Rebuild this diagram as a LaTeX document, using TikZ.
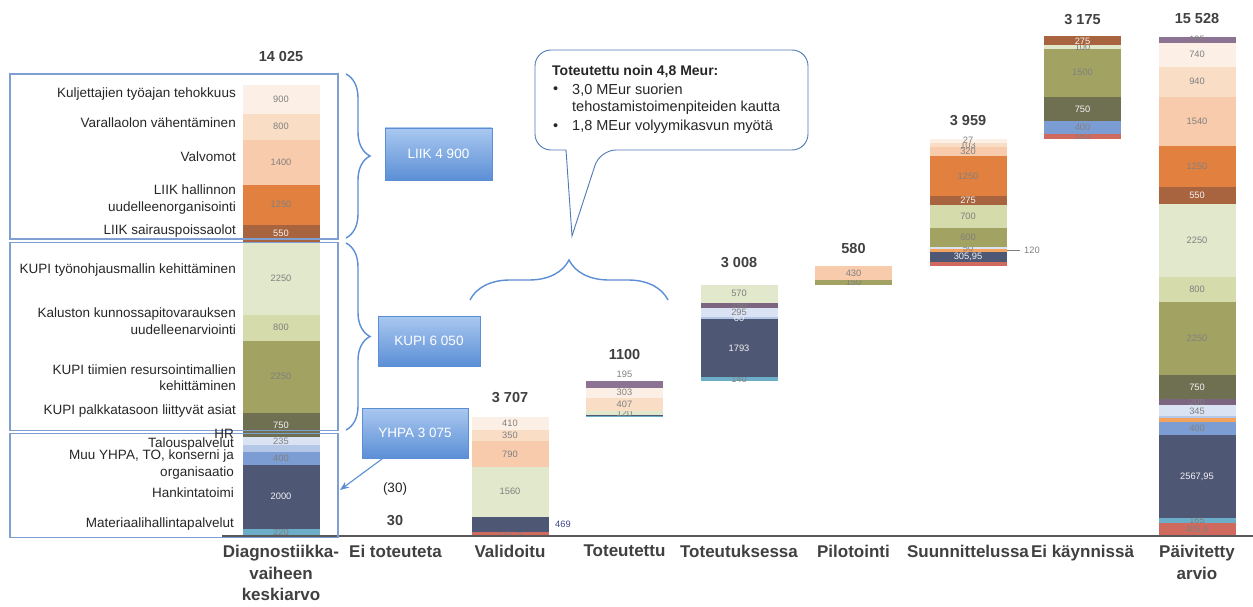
\documentclass[tikz,border=0pt]{standalone}
\usepackage{fontspec}
\setmainfont{Liberation Sans}
\usetikzlibrary{decorations.pathreplacing,arrows.meta}
\definecolor{pk1}{HTML}{FCF0E6}
\definecolor{pk2}{HTML}{FADDC5}
\definecolor{pk3}{HTML}{F8CBAD}
\definecolor{org}{HTML}{E2803F}
\definecolor{brn}{HTML}{A8643E}
\definecolor{gn1}{HTML}{E2E8CB}
\definecolor{gn2}{HTML}{D5DBAA}
\definecolor{olv}{HTML}{A2A262}
\definecolor{dol}{HTML}{6F7052}
\definecolor{lav}{HTML}{DAE3F3}
\definecolor{lbl}{HTML}{B4C7E7}
\definecolor{blu}{HTML}{7C9DD3}
\definecolor{dsl}{HTML}{4E5774}
\definecolor{tea}{HTML}{6CAEC8}
\definecolor{pur}{HTML}{8C7393}
\definecolor{pud}{HTML}{7B6580}
\definecolor{red}{HTML}{D0695E}
\definecolor{orn}{HTML}{F5A35C}
\definecolor{gry}{HTML}{808080}
\definecolor{wht}{HTML}{F4F4F4}
\definecolor{grpblue}{HTML}{7F9ED2}
\definecolor{tagedge}{HTML}{5B8ED6}
\definecolor{tagtop}{HTML}{A9C8F0}
\definecolor{tagbot}{HTML}{5C8FD6}
\definecolor{txt}{HTML}{262626}
\definecolor{dtxt}{HTML}{404040}
\newcount\segn
\newcommand\stackbar[3]{%
  \xdef\cum{#2}%
  \foreach \v/\c/\l/\t in {#3}{%
    \pgfmathsetmacro\ya{536-\cum*0.03216}%
    \pgfmathsetmacro\yb{536-(\cum+\v)*0.03216}%
    \fill[\c] (#1-38.5,\ya) rectangle (#1+38.5,\yb);
    \global\advance\segn by 1
    \node[seglbl,text=\t] (seg\the\segn) at (#1,{(\ya+\yb)/2}) {\l};
    \pgfmathsetmacro\nc{\cum+\v}%
    \xdef\cum{\nc}%
  }%
}
\begin{document}
\begin{tikzpicture}[x=1pt,y=-1pt,
  seglbl/.style={font=\fontsize{9.3}{10}\selectfont, inner sep=0pt},
  leftlbl/.style={anchor=east, align=right, font=\fontsize{13.5}{16.5}\selectfont, text=txt, inner sep=0pt},
  catlbl/.style={anchor=north, align=center, font=\fontsize{17}{21.5}\selectfont\bfseries, text=dtxt, inner sep=0pt},
  totlbl/.style={font=\fontsize{14.5}{16}\selectfont\bfseries, text=dtxt, inner sep=0pt},
  grpbox/.style={draw=grpblue, line width=1.1pt, inner sep=0pt},
  tagbox/.style={draw=tagedge, top color=tagtop, bottom color=tagbot, text=white, font=\fontsize{13.5}{15}\selectfont, inner sep=0pt},
  bluebrace/.style={draw=tagedge, line width=1.4pt, decorate},
  calltxt/.style={anchor=west, font=\fontsize{14.5}{16}\selectfont, text=txt, inner sep=0pt},
]
\useasboundingbox (0,0) rectangle (1253,607);

% ---- bars ----
\stackbar{281}{0}{220/tea/220/gry, 2000/dsl/2000/wht, 400/blu/400/gry, 220/lbl//gry, 235/lav/235/gry, 750/dol/750/wht, 2250/olv/2250/gry, 800/gn2/800/gry, 2250/gn1/2250/gry, 550/brn/550/wht, 1250/org/1250/gry, 1400/pk3/1400/gry, 800/pk2/800/gry, 900/pk1/900/gry}
\stackbar{510}{0}{127.5/red/{127,5}/gry, 469/dsl//wht, 1560/gn1/1560/gry, 790/pk3/790/gry, 350/pk2/350/gry, 410/pk1/410/gry}
\stackbar{624.5}{3707}{30/tea//gry, 30/dsl//gry, 120/gn1/120/gry, 407/pk2/407/gry, 318/pk1/303/gry, 195/pur//gry}
\stackbar{739}{4807}{140/tea/140/gry, 1793/dsl/1793/wht, 60/lbl/60/wht, 295/lav/295/gry, 150/pud/150/gry, 570/gn1/570/gry}
\stackbar{853.5}{7815}{150/olv/150/gry, 430/pk3/430/gry}
\stackbar{968}{8395}{134/red//gry, 300/dsl/{305,95}/wht, 90/orn//gry, 70/lav/50/gry, 600/olv/600/gry, 700/gn2/700/gry, 275/brn/275/wht, 1250/org/1250/gry, 280/pk3/320/gry, 130/pk2/103/gry, 130/pk1/27/gry}
\stackbar{1082.5}{12354}{150/red/150/gry, 400/blu/400/gry, 750/dol/750/wht, 1500/olv/1500/gry, 100/gn1/100/gry, 275/brn/275/wht}
\stackbar{1197}{0}{405.5/red/{405,5}/gry, 165/tea/165/gry, 2567.95/dsl/{2567,95}/wht, 400/blu/400/gry, 120/orn//gry, 60/lbl//gry, 345/lav/345/gry, 200/pud/200/gry, 750/dol/750/wht, 2250/olv/2250/gry, 800/gn2/800/gry, 2250/gn1/2250/gry, 550/brn/550/wht, 1250/org/1250/gry, 1540/pk3/1540/gry, 940/pk2/940/gry, 740/pk1/740/gry, 195/pur/195/gry}

% extra segment labels
\node[seglbl,text=gry] (t195) at (624.5,374) {195};
\node[seglbl,text=dsl!80!blue] (t469) at (563,524) {469};
\coordinate (ldA) at (1007,250);
\coordinate (ldB) at (1020,250);
\draw[gry, line width=0.8pt] (ldA) -- (ldB);
\node[seglbl,text=gry, anchor=west] (t120) at (1024,250) {120};

% axis
\coordinate (axL) at (222,536);
\coordinate (axR) at (1253,536);
\draw[draw=black!65, line width=1.3pt] (axL) -- (axR);

% ---- group boxes ----
\node[grpbox, minimum width=328pt, minimum height=165pt] (g1) at (174,156.5) {};
\node[grpbox, minimum width=328pt, minimum height=188pt] (g2) at (174,336.5) {};
\node[grpbox, minimum width=328pt, minimum height=104pt] (g3) at (174,485.5) {};

% ---- left labels ----
\node[leftlbl] (l1) at (236,94) {Kuljettajien työajan tehokkuus};
\node[leftlbl] (l2) at (236,123) {Varallaolon vähentäminen};
\node[leftlbl] (l3) at (236,157) {Valvomot};
\node[leftlbl] (l4) at (236,199.5) {LIIK hallinnon\\uudelleenorganisointi};
\node[leftlbl] (l5) at (236,231) {LIIK sairauspoissaolot};
\node[leftlbl] (l6) at (236,270) {KUPI työnohjausmallin kehittäminen};
\node[leftlbl] (l7) at (236,321) {Kaluston kunnossapitovarauksen\\uudelleenarviointi};
\node[leftlbl] (l8) at (236,377.5) {KUPI tiimien resursointimallien\\kehittäminen};
\node[leftlbl] (l9) at (236,411) {KUPI palkkatasoon liittyvät asiat};
\node[leftlbl] (l10) at (234,434) {HR};
\node[leftlbl] (l11) at (234,444.5) {Talouspalvelut};
\node[leftlbl] (l12) at (234,464.5) {Muu YHPA, TO, konserni ja\\organisaatio};
\node[leftlbl] (l13) at (234,493) {Hankintatoimi};
\node[leftlbl] (l14) at (234,524) {Materiaalihallintapalvelut};

% ---- braces ----
\coordinate (b1a) at (346,74);
\coordinate (b1b) at (346,238);
\coordinate (b2a) at (346,243);
\coordinate (b2b) at (346,430);
\coordinate (b3a) at (470,300);
\coordinate (b3b) at (668,300);
\draw[bluebrace, decoration={brace, amplitude=24pt}] (b1a) -- (b1b);
\draw[bluebrace, decoration={brace, amplitude=24pt}] (b2a) -- (b2b);
\draw[bluebrace, decoration={brace, amplitude=40pt}] (b3a) -- (b3b);

% ---- tag boxes ----
\node[tagbox, minimum width=107pt, minimum height=52pt] (liik) at (438.5,154) {LIIK 4 900};
\node[tagbox, minimum width=102pt, minimum height=50pt] (kupi) at (429,341) {KUPI 6 050};
\node[tagbox, minimum width=106pt, minimum height=50pt] (yhpa) at (415,433) {YHPA 3 075};
\coordinate (arrEnd) at (340,490);
\draw[draw=tagedge, line width=1.1pt, -{Stealth[length=9pt,width=7pt]}] ([xshift=-32pt]yhpa.south) -- (arrEnd);

% ---- callout ----
\draw[fill=white, draw=tagedge!85!black, line width=0.9pt, rounded corners=16pt]
  (566,150) -- (535,150) -- (535,50) -- (808,50) -- (808,150) -- (600,150) [sharp corners] -- (572,236) -- cycle;
\node[calltxt, font=\fontsize{14}{16}\selectfont\bfseries] (c1) at (552,72) {Toteutettu noin 4,8 Meur:};
\node[calltxt] (cb1) at (553,90) {•};
\node[calltxt] (c2) at (572,90) {3,0 MEur suorien};
\node[calltxt] (c3) at (572,108) {tehostamistoimenpiteiden kautta};
\node[calltxt] (cb2) at (553,127) {•};
\node[calltxt] (c4) at (572,127) {1,8 MEur volyymikasvun myötä};

% ---- totals ----
\node[totlbl] (tot1) at (281,57) {14 025};
\node[totlbl] (tot2) at (395,521) {30};
\node[font=\fontsize{13.5}{15}\selectfont, text=txt, inner sep=0pt] (tot2b) at (395,489) {(30)};
\node[totlbl] (tot3) at (510,398) {3 707};
\node[totlbl] (tot4) at (624.5,355) {1100};
\node[totlbl] (tot5) at (739,263) {3 008};
\node[totlbl] (tot6) at (853.5,249) {580};
\node[totlbl] (tot7) at (968,121) {3 959};
\node[totlbl] (tot8) at (1082.5,20) {3 175};
\node[totlbl] (tot9) at (1197,19) {15 528};

% ---- categories ----
\node[catlbl] (k1) at (281,545) {Diagnostiikka-\\vaiheen\\keskiarvo};
\node[catlbl] (k2) at (395.5,545) {Ei toteuteta};
\node[catlbl] (k3) at (510,545) {Validoitu};
\node[catlbl] (k4) at (624.5,545) {Toteutettu};
\node[catlbl] (k5) at (739,545) {Toteutuksessa};
\node[catlbl] (k6) at (853.5,545) {Pilotointi};
\node[catlbl] (k7) at (968,545) {Suunnittelussa};
\node[catlbl] (k8) at (1082.5,545) {Ei käynnissä};
\node[catlbl] (k9) at (1197,545) {Päivitetty\\arvio};
\end{tikzpicture}
\end{document}
